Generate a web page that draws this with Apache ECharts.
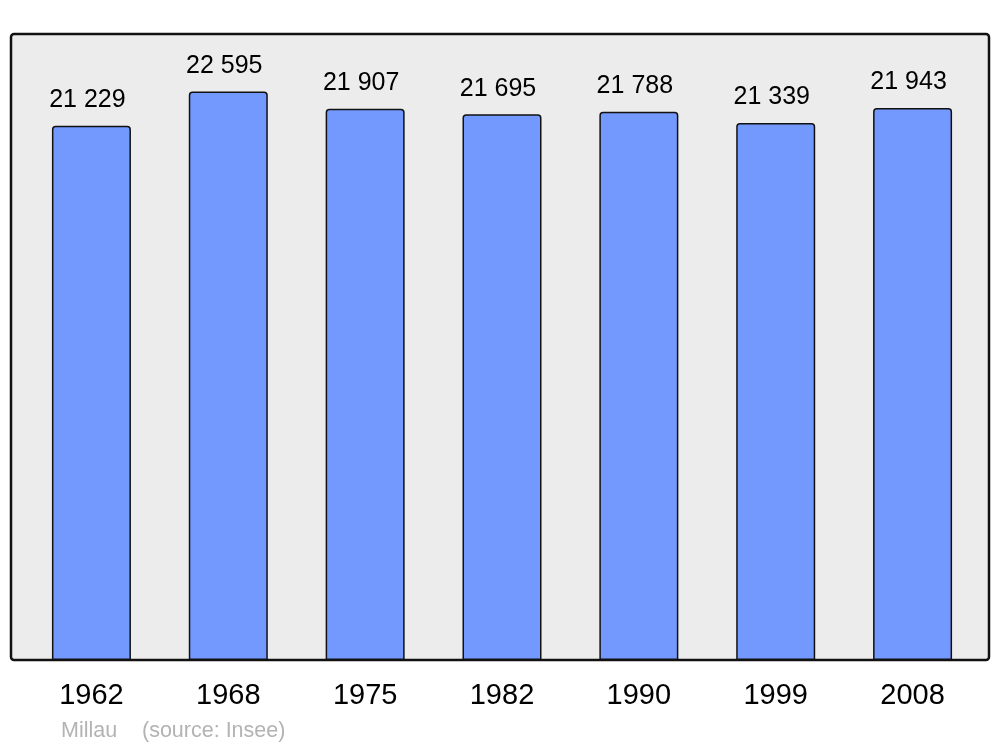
<!DOCTYPE html>
<html><head><meta charset="utf-8">
<script src="https://cdn.jsdelivr.net/npm/echarts@6/dist/echarts.min.js"></script>
<style>html,body{margin:0;padding:0;background:#fff}#c{width:1000px;height:747px}</style>
</head><body><div id="c"></div>
<script>
const years = ['1962','1968','1975','1982','1990','1999','2008'];
const population = [21229, 22595, 21907, 21695, 21788, 21339, 21943];
const placeName = 'Millau';
const sourceNote = '(source: Insee)';

function fmt(v){ return String(v).replace(/\B(?=(\d{3})+(?!\d))/g, ' '); }

const chart = echarts.init(document.getElementById('c'), null, {renderer:'canvas'});
chart.setOption({
  animation: false,
  backgroundColor: '#ffffff',
  title: [
    {text: placeName, left: 61, top: 720, padding: 0,
     textStyle: {fontFamily: 'Liberation Sans, Arial, sans-serif', fontSize: 21.5, fontWeight: 'normal', color: '#b3b3b3'}},
    {text: sourceNote, left: 142, top: 720, padding: 0,
     textStyle: {fontFamily: 'Liberation Sans, Arial, sans-serif', fontSize: 21.5, fontWeight: 'normal', color: '#b3b3b3'}}
  ],
  graphic: [{
    type: 'rect', z: -10, silent: true,
    shape: {x: 11, y: 34, width: 978, height: 626, r: 3},
    style: {fill: '#ececec', stroke: '#111111', lineWidth: 2.5}
  }],
  grid: {left: 23, right: 19, top: 34, bottom: 87},
  xAxis: {
    type: 'category', data: years,
    axisLine: {show: false}, axisTick: {show: false},
    axisLabel: {margin: 21, fontSize: 29, color: '#000', fontFamily: 'Liberation Sans, Arial, sans-serif'}
  },
  yAxis: {
    type: 'value', min: 0, max: 24880, show: false, splitLine: {show: false}
  },
  series: [{
    type: 'bar', data: population, barWidth: 79,
    itemStyle: {color: '#7399ff', borderColor: '#111111', borderWidth: 1.5, borderRadius: [3,3,0,0]},
    label: {show: true, position: 'top', distance: 13, offset: [-4, 0], fontSize: 25, color: '#000',
      fontFamily: 'Liberation Sans, Arial, sans-serif', formatter: p => fmt(p.value)}
  }]
});
</script></body></html>
